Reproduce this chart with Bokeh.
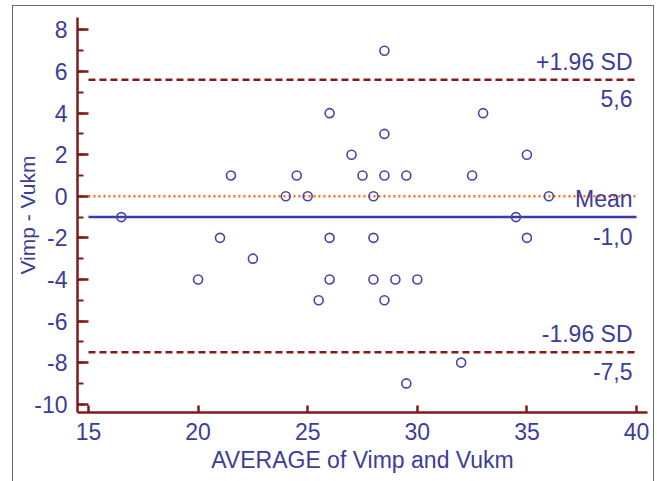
from bokeh.plotting import figure
from bokeh.models import SingleIntervalTicker, ColumnDataSource, PrintfTickFormatter
from bokeh.core.properties import value
from bokeh.embed import file_html
from bokeh.resources import INLINE

# ---- data ----
avg = [16.5, 20, 21, 21.5, 22.5, 24, 24.5, 25, 25.5, 26, 26, 26, 27, 27.5,
       28, 28, 28, 28.5, 28.5, 28.5, 28.5, 29, 29.5, 29.5, 30, 32, 32.5, 33,
       34.5, 35, 35, 36]
diff = [-1, -4, -2, 1, -3, 0, 1, 0, -5, 4, -2, -4, 2, 1,
        0, -2, -4, 7, 3, 1, -5, -4, 1, -9, -4, -8, 1, 4,
        -1, 2, -2, 0]
stat_values = [5.6, -1.0, -7.5]
stat_names = ["+1.96 SD", "Mean", "-1.96 SD"]
zero_value = [0]
line_x = [15, 40]
x_title = "AVERAGE of Vimp and Vukm"
y_title = "Vimp - Vukm"

FONT = "Liberation Sans"
TXT = "#3c3c9a"
AXC = "#7d1c1c"
FS = "23px"

p = figure(width=642, height=476, x_range=(14.5, 40.5), y_range=(-10.4, 8.6),
           output_backend="svg", toolbar_location=None,
           min_border_left=62, min_border_right=8, min_border_top=11,
           min_border_bottom=70)
p.styles = {"margin-left": "12px", "margin-top": "5px",
            "border-left": "1.5px solid #6a6a6a",
            "border-top": "1.5px solid #6a6a6a",
            "border-right": "1.5px solid #6a6a6a"}
p.outline_line_color = None
p.xgrid.visible = False
p.ygrid.visible = False
p.background_fill_color = "white"

# axes
xa = p.xaxis[0]
ya = p.yaxis[0]
xa.ticker = SingleIntervalTicker(interval=5, num_minor_ticks=0)
ya.ticker = SingleIntervalTicker(interval=2, num_minor_ticks=2)
xa.formatter = PrintfTickFormatter(format="%d")
ya.formatter = PrintfTickFormatter(format="%d")
for ax in (xa, ya):
    ax.axis_line_color = AXC
    ax.axis_line_width = 2.5
    ax.major_tick_line_color = AXC
    ax.major_tick_line_width = 2.5
    ax.minor_tick_line_color = AXC
    ax.minor_tick_line_width = 2
    ax.major_tick_out = 0
    ax.minor_tick_out = 0
    ax.major_label_text_font = FONT
    ax.major_label_text_font_size = FS
    ax.major_label_text_color = TXT
    ax.axis_label_text_font = FONT
    ax.axis_label_text_color = TXT
    ax.axis_label_text_font_style = "normal"
xa.axis_label_text_font_size = FS
ya.axis_label_text_font_size = "21px"
xa.major_tick_in = 7
xa.minor_tick_in = 0
ya.major_tick_in = 11
ya.minor_tick_in = 6
xa.major_label_standoff = 10
ya.major_label_standoff = 10
xa.axis_label = x_title
xa.axis_label_standoff = 4
ya.axis_label = y_title
ya.axis_label_standoff = -8

# reference lines
p.line(line_x, [zero_value[0]] * 2, line_color="#ff6a12", line_width=2.5,
       line_dash="2 3")
p.line(line_x, [stat_values[0]] * 2, line_color="#861a1a", line_width=2.5,
       line_dash="7 4")
p.line(line_x, [stat_values[2]] * 2, line_color="#861a1a", line_width=2.5,
       line_dash="7 4")
p.line(line_x, [stat_values[1]] * 2, line_color="#3a3aa8", line_width=2.5)

# points
p.scatter(avg, diff, marker="circle", size=9, fill_color=None,
          line_color="#4646a6", line_width=1.6)

# labels
val_txt = [f"{v:.1f}".replace(".", ",") for v in stat_values]
src = ColumnDataSource(dict(x=[line_x[1]] * len(stat_values), y=stat_values,
                            above=stat_names, below=val_txt))
p.text(x="x", y="y", text="above", source=src, text_align="right",
       text_baseline="alphabetic", x_offset=-4, y_offset=-18,
       text_font=value(FONT), text_font_size=FS, text_color=TXT)
p.text(x="x", y="y", text="below", source=src, text_align="right",
       text_baseline="alphabetic", x_offset=-4, y_offset=19,
       text_font=value(FONT), text_font_size=FS, text_color=TXT)

open("out.html", "w").write(file_html(p, INLINE))
